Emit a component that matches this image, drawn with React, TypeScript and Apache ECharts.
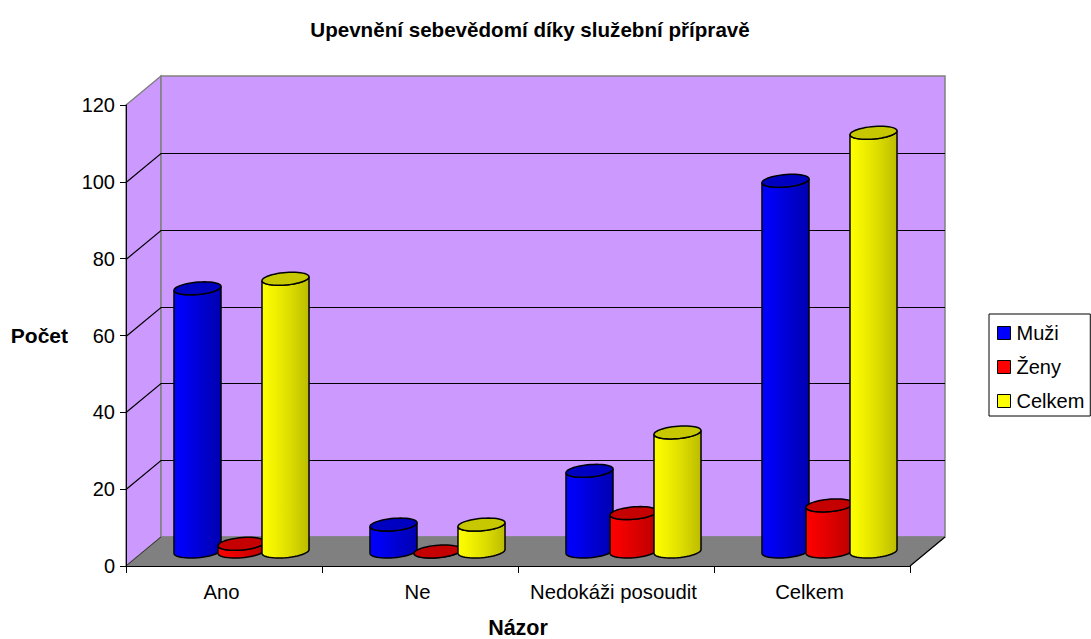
import React, { useEffect, useRef } from "react";
import * as echarts from "echarts";

const categories = ["Ano", "Ne", "Nedokáži posoudit", "Celkem"];
const muzi = [68.5, 7, 21, 96.5];
const zeny = [2, 0, 10, 12];
const celkem = [71, 7, 31, 109];
const yTicks = [0, 20, 40, 60, 80, 100, 120];

const DEPTH_X = 35;
const DEPTH_Y = -29;
const FONT = "'Liberation Sans', Arial, sans-serif";

const palette: Record<string, { stops: string[]; top: string; legend: string }> = {
  "Muži": { stops: ["#0000ff", "#0000f0", "#0000d0", "#0000b0"], top: "#0000c0", legend: "#0000ff" },
  "Ženy": { stops: ["#ff0000", "#f00000", "#d80000", "#b80000"], top: "#c40000", legend: "#ff0000" },
  "Celkem": { stops: ["#ffff00", "#f2f200", "#dcdc00", "#bcbc00"], top: "#c8c800", legend: "#ffff00" },
};

function ellipse(cx: number, cy: number, R: number, dx: number, dy: number, from: number, to: number, n: number) {
  const pts: number[][] = [];
  for (let i = 0; i <= n; i++) {
    const t = from + ((to - from) * i) / n;
    pts.push([cx + R * Math.cos(t) + dx * Math.sin(t), cy + dy * Math.sin(t)]);
  }
  return pts;
}

function cylinder(name: string, offsetIndex: number) {
  const c = palette[name];
  return (_: any, api: any) => {
    const idx = api.value(0);
    const val = api.value(1);
    const top = api.coord([idx, val]);
    const base = api.coord([idx, 0]);
    const step = api.size([1, 0])[0] * 0.2245;
    const R = step * 0.51;
    const dx = 7;
    const dy = -6.5;
    const cx = base[0] + DEPTH_X / 2 + (offsetIndex - 1) * step;
    const yBase = base[1] + DEPTH_Y / 2;
    const yTop = top[1] + DEPTH_Y / 2;
    const t0 = Math.atan2(dx, R);
    const topFront = ellipse(cx, yTop, R, dx, dy, t0, t0 - Math.PI, 24);
    const botFront = ellipse(cx, yBase, R, dx, dy, t0 - Math.PI, t0, 24);
    const grad = new echarts.graphic.LinearGradient(0, 0, 1, 0, [
      { offset: 0, color: c.stops[0] },
      { offset: 0.25, color: c.stops[1] },
      { offset: 0.6, color: c.stops[2] },
      { offset: 1, color: c.stops[3] },
    ]);
    return {
      type: "group",
      children: [
        {
          type: "polygon",
          shape: { points: [...topFront, ...botFront] },
          style: { fill: grad, stroke: "#000", lineWidth: 1.5 },
        },
        {
          type: "polygon",
          shape: { points: ellipse(cx, yTop, R, dx, dy, 0, Math.PI * 2, 48) },
          style: { fill: c.top, stroke: "#000", lineWidth: 1.5 },
        },
      ],
    };
  };
}

function walls(params: any, api: any) {
  const g = params.coordSys;
  const x0 = g.x;
  const x1 = g.x + g.width;
  const yB = g.y + g.height;
  const yT = g.y;
  const dX = DEPTH_X;
  const dY = DEPTH_Y;
  const grey = "#808080";
  const kids: any[] = [
    { type: "polygon", shape: { points: [[x0, yB], [x0 + dX, yB + dY], [x0 + dX, yT + dY], [x0, yT]] }, style: { fill: "#cc99ff", stroke: grey, lineWidth: 1.5 } },
    { type: "polygon", shape: { points: [[x0 + dX, yT + dY], [x1 + dX, yT + dY], [x1 + dX, yB + dY], [x0 + dX, yB + dY]] }, style: { fill: "#cc99ff", stroke: grey, lineWidth: 1.5 } },
    { type: "polygon", shape: { points: [[x0, yB], [x1, yB], [x1 + dX, yB + dY], [x0 + dX, yB + dY]] }, style: { fill: "#808080", stroke: grey, lineWidth: 1 } },
    { type: "line", shape: { x1: x1, y1: yB, x2: x1 + dX, y2: yB + dY }, style: { stroke: "#000", lineWidth: 1.2 } },
    { type: "line", shape: { x1: x0, y1: yB, x2: x0 + dX, y2: yB + dY }, style: { stroke: "#333", lineWidth: 1 } },
  ];
  yTicks.slice(1, -1).forEach((t) => {
    const y = Math.round(api.coord([0, t])[1]) + 0.5;
    kids.push({ type: "polyline", shape: { points: [[x0, y], [x0 + dX, y + dY], [x1 + dX, y + dY]] }, style: { stroke: "#000", lineWidth: 1.2, fill: "none" } });
  });
  return { type: "group", children: kids };
}

function seriesFor(name: string, values: number[], i: number) {
  return {
    name,
    type: "custom",
    z: 4 + i,
    clip: false,
    itemStyle: { color: palette[name].legend },
    encode: { x: 0, y: 1 },
    renderItem: cylinder(name, i),
    data: values.map((v, k) => [k, v]),
  };
}

export default function App() {
  const ref = useRef<HTMLDivElement>(null);
  useEffect(() => {
    document.body.style.margin = "0";
    const chart = echarts.init(ref.current!, undefined, { renderer: "svg" });
    chart.setOption({
      animation: false,
      backgroundColor: "#fff",
      textStyle: { fontFamily: FONT },
      title: {
        text: "Upevnění sebevědomí díky služební přípravě",
        left: 525,
        top: 14,
        textAlign: "center",
        textStyle: { fontFamily: FONT, fontSize: 20.6, fontWeight: "bold", color: "#000" },
      },
      grid: { left: 126, top: 105, width: 784, height: 461, outerBoundsMode: "none" },
      legend: {
        orient: "vertical",
        left: 989,
        top: 314,
        data: ["Muži", "Ženy", "Celkem"],
        backgroundColor: "#fff",
        borderColor: "#000",
        borderWidth: 1,
        padding: [9, 6, 5, 8],
        itemWidth: 13,
        itemHeight: 13,
        itemGap: 14,
        icon: "rect",
        selectedMode: false,
        itemStyle: { borderColor: "#000", borderWidth: 1 },
        textStyle: { fontFamily: FONT, fontSize: 20, color: "#000", padding: [0, 0, 0, 1] },
      },
      xAxis: {
        type: "category",
        data: categories,
        name: "Názor",
        nameLocation: "middle",
        nameGap: 51,
        nameTextStyle: { fontFamily: FONT, fontSize: 21.5, fontWeight: "bold", color: "#000" },
        axisLine: { lineStyle: { color: "#000", width: 1 } },
        axisTick: { show: true, alignWithLabel: false, length: 7, lineStyle: { color: "#000" } },
        axisLabel: { fontFamily: FONT, fontSize: 20.3, color: "#000", margin: 16, interval: 0, padding: [0, 5, 0, 0] },
        z: 3,
      },
      yAxis: {
        type: "value",
        min: 0,
        max: 120,
        interval: 20,
        name: "Počet",
        nameLocation: "middle",
        nameRotate: 0,
        nameGap: 58,
        nameTextStyle: { fontFamily: FONT, fontSize: 21, fontWeight: "bold", color: "#000" },
        axisLine: { show: true, lineStyle: { color: "#000", width: 1 } },
        axisTick: { show: true, length: 6, lineStyle: { color: "#000" } },
        axisLabel: { fontFamily: FONT, fontSize: 20, color: "#000", margin: 11 },
        splitLine: { show: false },
        z: 3,
      },
      series: [
        { type: "custom", name: "stěny", z: 1, clip: false, silent: true, renderItem: walls, data: [[0, 0]], encode: { x: 0, y: 1 } },
        seriesFor("Muži", muzi, 0),
        seriesFor("Ženy", zeny, 1),
        seriesFor("Celkem", celkem, 2),
      ],
    });
    return () => chart.dispose();
  }, []);
  return <div ref={ref} style={{ width: 1091, height: 639 }} />;
}
